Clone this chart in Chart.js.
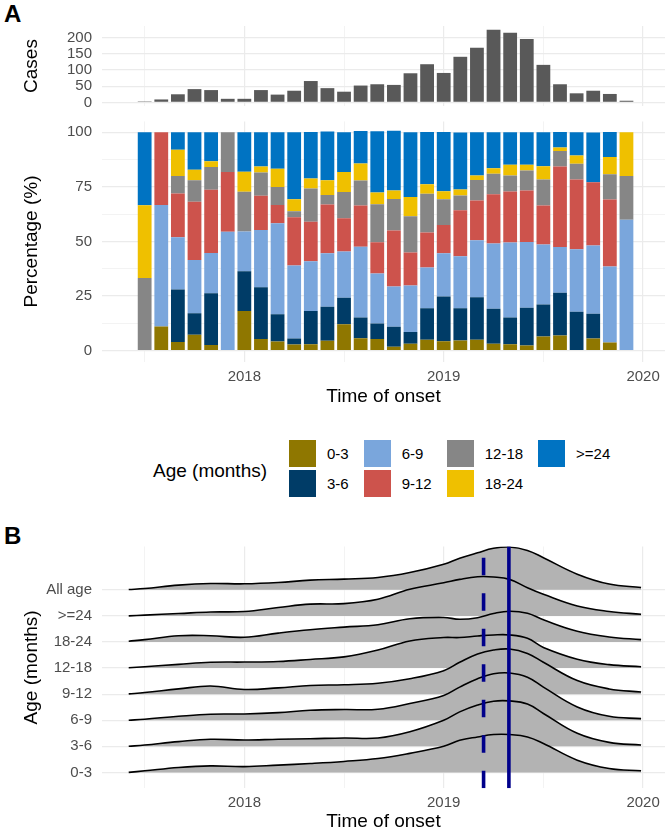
<!DOCTYPE html>
<html>
<head>
<meta charset="utf-8">
<script src="https://cdn.jsdelivr.net/npm/chart.js@4.4.0/dist/chart.umd.min.js"></script>
<style>
  html, body { margin: 0; padding: 0; background: #fff; }
  body { width: 669px; height: 829px; position: relative; overflow: hidden; font-family: "Liberation Sans", Arial, sans-serif; }
  canvas { position: absolute; left: 0; }
  .tag { position: absolute; left: 4px; font-weight: bold; font-size: 24px; line-height: 24px; }
  #legendTitle { position: absolute; left: 153px; top: 460px; font-size: 19px; line-height: 22px; }
  #legend { position: absolute; left: 289px; top: 440px; display: grid; grid-template-rows: 30px 30px; grid-auto-flow: column; column-gap: 15px; }
  .item { display: flex; align-items: flex-start; font-size: 15px; line-height: 27px; }
  .key { width: 27px; height: 27px; margin-right: 11px; }
</style>
</head>
<body>

<div class="tag" style="top:2px;">A</div>
<canvas id="casesChart" width="669" height="115" style="top:0px;"></canvas>
<canvas id="pctChart" width="669" height="300" style="top:112px;"></canvas>

<div id="legendTitle">Age (months)</div>
<div id="legend"></div>

<div class="tag" style="top:524px;">B</div>
<canvas id="ridgeChart" width="669" height="315" style="top:530px;"></canvas>

<script>
Chart.defaults.font.family = '"Liberation Sans", Arial, sans-serif';
Chart.defaults.animation = false;
Chart.defaults.plugins.legend.display = false;
Chart.defaults.plugins.tooltip.enabled = false;

// ---- data ----

const months = [
  '2017-07', '2017-08', '2017-09', '2017-10', '2017-11', '2017-12',
  '2018-01', '2018-02', '2018-03', '2018-04', '2018-05', '2018-06',
  '2018-07', '2018-08', '2018-09', '2018-10', '2018-11', '2018-12',
  '2019-01', '2019-02', '2019-03', '2019-04', '2019-05', '2019-06',
  '2019-07', '2019-08', '2019-09', '2019-10', '2019-11', '2019-12'
];

const cases = [3, 9, 25, 41, 38, 11, 11, 38, 24, 36, 66, 44, 33, 52, 56,
  54, 90, 118, 91, 141, 169, 225, 215, 196, 116, 56, 28, 36, 26, 5];

const ageGroups = ['0-3', '3-6', '6-9', '9-12', '12-18', '18-24', '>=24'];

// percentage of cases per age group, one value per month
const pct0_3 = [0, 11.1, 4, 7.3, 2.6, 0, 18.2, 5.3, 4.2, 2.8, 3, 4.5, 12.1, 5.7, 5.3,
  1.8, 3.2, 5, 4.3, 4.7, 5, 3.2, 3, 2.4, 6.5, 7, 0, 5.6, 3.7, 0];
const pct3_6 = [0, 0, 24, 9.8, 23.7, 0, 18.2, 23.7, 12.5, 2.8, 15.2, 15.6, 12.1, 9.5, 7.1,
  9.2, 5.3, 14.4, 20.5, 14.7, 19.5, 16, 12.2, 17.3, 14.7, 19.5, 17.8, 11.3, 0, 0];
const pct6_9 = [0, 55.6, 24, 24.4, 18.4, 54.5, 18.2, 26.3, 41.7, 33.4, 22.7, 24.5, 21.2, 32.4, 23,
  18.4, 21.3, 18.7, 19.8, 23.9, 26.1, 29.9, 34.3, 30.1, 27.4, 21, 28.6, 31.3, 34.8, 60];
const pct9_12 = [0, 33.3, 20, 26.7, 29, 27.3, 0, 15.7, 8.3, 22.1, 18.2, 22.4, 15.2, 18.9, 14.2,
  25.6, 15.2, 16, 12.9, 21, 18.2, 22.5, 23.4, 23.6, 17.9, 36.8, 32, 28.9, 30.7, 0];
const pct12_18 = [33.3, 0, 8, 9.8, 10.4, 18.2, 18.2, 10.6, 8.3, 2.8, 15.2, 4.3, 12.1, 11.4, 17.5,
  14.5, 16.6, 17.8, 11.9, 6.8, 9.4, 9.4, 7.3, 9.1, 11.9, 7.1, 7.2, 0, 11.6, 20];
const pct18_24 = [33.3, 0, 12, 4.9, 2.6, 0, 9.1, 2.7, 8.3, 5.5, 4.6, 6.8, 9.1, 7.8, 5.3,
  3.8, 8.8, 4.3, 3.6, 2.7, 2, 2.6, 4.9, 2.6, 6.1, 1.7, 3.8, 0, 7.9, 20];
const pct24plus = [33.4, 0, 8, 17.1, 13.3, 0, 18.1, 15.7, 16.7, 30.6, 21.2, 22.3, 18.2, 14.9, 28.1,
  27.4, 29.6, 23.9, 27.1, 26.1, 19.8, 16.4, 14.9, 14.9, 15.5, 7.1, 10.6, 22.8, 11.4, 0];

const ageColors = ['#8F7700', '#003C67', '#7AA6DC', '#CD534C', '#868686', '#EFC000', '#0073C2'];

// ridgeline densities (height above each baseline), sampled in decimal years
const ridgeGroups = ['0-3', '3-6', '6-9', '9-12', '12-18', '18-24', '>=24', 'All age'];
const ridgeTimes = [2017.42, 2017.5, 2017.67, 2017.83, 2018.0, 2018.17, 2018.33, 2018.5, 2018.67, 2018.83,
  2019.0, 2019.08, 2019.17, 2019.25, 2019.33, 2019.42, 2019.5, 2019.67, 2019.83, 2019.99];
const dens0_3 = [0, 0.06, 0.19, 0.25, 0.22, 0.28, 0.34, 0.42, 0.53, 0.73, 1.0, 1.23, 1.36, 1.45, 1.45, 1.36, 1.11, 0.47, 0.15, 0.06];
const dens3_6 = [0, 0.05, 0.18, 0.27, 0.24, 0.27, 0.29, 0.32, 0.32, 0.56, 1.0, 1.32, 1.58, 1.73, 1.74, 1.62, 1.26, 0.5, 0.15, 0.05];
const dens6_9 = [0, 0.04, 0.15, 0.23, 0.24, 0.29, 0.38, 0.41, 0.42, 0.64, 0.95, 1.27, 1.59, 1.78, 1.81, 1.65, 1.27, 0.51, 0.15, 0.06];
const dens9_12 = [0.01, 0.06, 0.2, 0.31, 0.18, 0.24, 0.33, 0.36, 0.42, 0.59, 0.9, 1.22, 1.54, 1.69, 1.73, 1.56, 1.22, 0.52, 0.2, 0.08];
const dens12_18 = [0.01, 0.05, 0.14, 0.22, 0.23, 0.25, 0.33, 0.43, 0.69, 1.04, 1.17, 1.17, 1.23, 1.27, 1.27, 1.14, 0.79, 0.34, 0.13, 0.05];
const dens18_24 = [0.03, 0.09, 0.24, 0.24, 0.18, 0.34, 0.47, 0.57, 0.66, 0.89, 0.94, 0.87, 0.93, 1.09, 1.18, 1.1, 0.85, 0.41, 0.19, 0.09];
const dens24plus = [0, 0.03, 0.09, 0.15, 0.17, 0.32, 0.45, 0.47, 0.64, 1.02, 1.27, 1.4, 1.5, 1.49, 1.4, 1.08, 0.83, 0.38, 0.17, 0.06];
const densAll = [0.01, 0.05, 0.18, 0.24, 0.23, 0.28, 0.37, 0.41, 0.47, 0.66, 0.98, 1.21, 1.42, 1.59, 1.64, 1.51, 1.23, 0.6, 0.22, 0.09];

// dashed and solid reference dates in panel B
const onsetLines = [2019.2, 2019.327];

// ---- helpers ----

const gridColor = '#EBEBEB';
const tickColor = '#4D4D4D';
const isWhole = v => Math.abs(v - Math.round(v)) < 1e-6;

function toYear(s) {
  const parts = s.split('-').map(Number);
  return parts[0] + (parts[1] - 1) / 12;
}
const monthX = months.map(toYear);

function timeAxis(showLabels, axisHeight, titlePad) {
  return {
    type: 'linear',
    min: 2017.286,
    max: 2020.11,
    offset: false,
    stacked: true,
    grid: {
      color: gridColor,
      lineWidth: c => isWhole(c.tick.value) ? 1.2 : 0.6,
      drawTicks: false,
      offset: false
    },
    border: { display: false },
    ticks: {
      display: showLabels,
      stepSize: 0.5,
      includeBounds: false,
      autoSkip: false,
      maxRotation: 0,
      padding: 6,
      color: tickColor,
      font: { size: 15 },
      callback: v => isWhole(v) ? String(Math.round(v)) : ''
    },
    title: {
      display: showLabels,
      text: 'Time of onset',
      color: '#000',
      font: { size: 19 },
      padding: { top: 0, bottom: titlePad }
    },
    afterFit: s => { s.height = axisHeight; }
  };
}

// y grid: invisible tick marks give the gap between labels and panel
function yGrid(widthFn) {
  return { color: gridColor, lineWidth: widthFn, drawTicks: true, tickLength: 10, tickColor: 'rgba(0,0,0,0)' };
}

function yTitle(text) {
  return { display: true, text: text, color: '#000', font: { size: 19 }, padding: { top: 20.6, bottom: 0 } };
}

// ---- panel A, top: cases ----

new Chart(document.getElementById('casesChart'), {
  type: 'bar',
  data: {
    datasets: [{
      data: monthX.map((x, i) => ({ x: x, y: cases[i] })),
      backgroundColor: '#595959',
      categoryPercentage: 1,
      barPercentage: 0.83
    }]
  },
  options: {
    responsive: false,
    layout: { padding: { top: 26, right: 4, bottom: 0, left: 0 } },
    scales: {
      x: timeAxis(false, 9, 0),
      y: {
        min: -11.25,
        max: 236.25,
        grid: yGrid(c => c.tick.value % 50 === 0 ? 1.2 : 0.6),
        border: { display: false },
        ticks: {
          stepSize: 25,
          includeBounds: false,
          padding: 0,
          color: tickColor,
          font: { size: 15 },
          callback: v => v % 50 === 0 ? v : ''
        },
        title: yTitle('Cases'),
        afterFit: s => { s.width = 102; }
      }
    }
  }
});

// ---- panel A, bottom: age composition ----

const pctSeries = [pct0_3, pct3_6, pct6_9, pct9_12, pct12_18, pct18_24, pct24plus];

new Chart(document.getElementById('pctChart'), {
  type: 'bar',
  data: {
    datasets: ageGroups.map((g, k) => ({
      label: g,
      data: monthX.map((x, i) => ({ x: x, y: pctSeries[k][i] })),
      backgroundColor: ageColors[k],
      categoryPercentage: 1,
      barPercentage: 0.83
    }))
  },
  options: {
    responsive: false,
    layout: { padding: { top: 9.4, right: 4, bottom: 0, left: 0 } },
    scales: {
      x: timeAxis(true, 50.4, 4),
      y: {
        stacked: true,
        min: -5,
        max: 105,
        grid: yGrid(c => c.tick.value % 25 === 0 ? 1.2 : 0.6),
        border: { display: false },
        ticks: {
          stepSize: 12.5,
          includeBounds: false,
          padding: 0,
          color: tickColor,
          font: { size: 15 },
          callback: v => v % 25 === 0 ? v : ''
        },
        title: yTitle('Percentage (%)'),
        afterFit: s => { s.width = 102; }
      }
    }
  }
});

// legend for the age groups (two rows, filled column by column)
const legendBox = document.getElementById('legend');
ageGroups.forEach((g, k) => {
  const item = document.createElement('div');
  item.className = 'item';
  const key = document.createElement('div');
  key.className = 'key';
  key.style.background = ageColors[k];
  const label = document.createElement('span');
  label.textContent = g;
  item.appendChild(key);
  item.appendChild(label);
  legendBox.appendChild(item);
});

// ---- panel B: ridgelines ----

const ridgeHeights = [dens0_3, dens3_6, dens6_9, dens9_12, dens12_18, dens18_24, dens24plus, densAll];
const ridgeMin = -0.61;
const ridgeMax = 8.66;

const lineSets = onsetLines.map((v, k) => ({
  data: [{ x: v, y: ridgeMin }, { x: v, y: ridgeMax }],
  borderColor: '#00008B',
  borderWidth: 3.6,
  borderDash: k === 0 ? [17.5, 18] : [],
  borderCapStyle: 'butt',
  pointRadius: 0,
  fill: false,
  order: 0
}));

const ridgeSets = ridgeGroups.map((g, i) => ({
  label: g,
  data: ridgeTimes.map((t, j) => ({ x: t, y: i + ridgeHeights[i][j] })),
  borderColor: '#000',
  borderWidth: 1.6,
  backgroundColor: '#B3B3B3',
  fill: { value: i },
  pointRadius: 0,
  tension: 0.4,
  order: i + 2
}));

new Chart(document.getElementById('ridgeChart'), {
  type: 'line',
  data: { datasets: lineSets.concat(ridgeSets) },
  options: {
    responsive: false,
    layout: { padding: { top: 16.5, right: 4, bottom: 0, left: 0 } },
    scales: {
      x: timeAxis(true, 56.7, 12),
      y: {
        min: ridgeMin,
        max: ridgeMax,
        afterBuildTicks: s => { s.ticks = ridgeGroups.map((g, i) => ({ value: i })); },
        grid: yGrid(1.2),
        border: { display: false },
        ticks: {
          padding: 0,
          color: tickColor,
          font: { size: 15 },
          callback: v => ridgeGroups[v]
        },
        title: yTitle('Age (months)'),
        afterFit: s => { s.width = 102; }
      }
    }
  }
});
</script>
</body>
</html>
